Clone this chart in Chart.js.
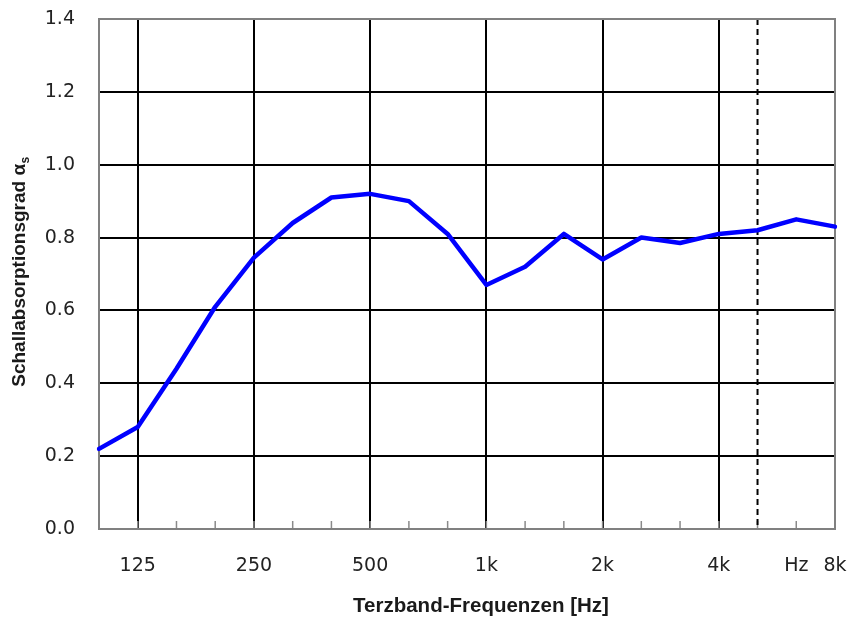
<!DOCTYPE html>
<html>
<head>
<meta charset="utf-8">
<script src="https://cdn.jsdelivr.net/npm/chart.js@4"></script>
<style>
  html, body { margin: 0; padding: 0; background: #fff; }
  #wrap { width: 853px; height: 617px; }
</style>
</head>
<body>
<div id="wrap"><canvas id="c" width="853" height="617"></canvas></div>
<script>
// Third-octave band centre frequencies (Hz)
const categories = ['100','125','160','200','250','315','400','500','630','800','1000','1250','1600','2000','2500','3150','4000','5000','6300','8000'];
// Sound absorption coefficient alpha_s
const absorption = [0.22,0.28,0.44,0.61,0.745,0.84,0.91,0.92,0.90,0.81,0.67,0.72,0.81,0.74,0.80,0.785,0.81,0.82,0.85,0.83];
// Shown x tick labels
const xTickLabels = ['','125','','','250','','','500','','','1k','','','2k','','','4k','','Hz','8k'];
// Categories with solid vertical grid lines, and the one with a dashed line
const majorGridCats = ['125','250','500','1000','2000','4000'];
const dashedCat = '5000';
// Y axis range
const yMin = 0, yMax = 1.4, yStep = 0.2;

const xTitle = 'Terzband-Frequenzen [Hz]';
const yTitleMain = 'Schallabsorptionsgrad α';
const yTitleSub = 's';

const decorPlugin = {
  id: 'decor',
  beforeDatasetsDraw(chart) {
    const {ctx, chartArea: a, scales: {x}} = chart;
    ctx.save();
    // minor ticks at every band (inside, upward)
    ctx.strokeStyle = '#8a8a8a';
    ctx.lineWidth = 1.5;
    categories.forEach((c, i) => {
      const px = x.getPixelForValue(i);
      ctx.beginPath();
      ctx.moveTo(px, a.bottom);
      ctx.lineTo(px, a.bottom - 8);
      ctx.stroke();
    });
    // dashed vertical line
    const dIdx = categories.indexOf(dashedCat);
    const dx = x.getPixelForValue(dIdx);
    ctx.strokeStyle = '#000';
    ctx.lineWidth = 2;
    ctx.setLineDash([6, 4]);
    ctx.beginPath();
    ctx.moveTo(dx, a.top);
    ctx.lineTo(dx, a.bottom);
    ctx.stroke();
    ctx.setLineDash([]);
    // frame
    ctx.strokeStyle = '#808080';
    ctx.lineWidth = 2;
    ctx.strokeRect(a.left, a.top, a.right - a.left, a.bottom - a.top);
    ctx.restore();
  },
  afterDraw(chart) {
    const {ctx, chartArea: a} = chart;
    ctx.save();
    ctx.fillStyle = '#1a1a1a';
    // x-axis title
    ctx.font = "bold 20.5px 'Liberation Sans', Arial, sans-serif";
    ctx.textAlign = 'center';
    ctx.textBaseline = 'middle';
    ctx.fillText(xTitle, (a.left + a.right) / 2 + 14, 606);
    // y-axis title with subscript
    const cy = (a.top + a.bottom) / 2 - 2;
    ctx.translate(20, cy);
    ctx.rotate(-Math.PI / 2);
    ctx.textBaseline = 'middle';
    ctx.textAlign = 'left';
    const f1 = "bold 19px 'Liberation Sans', Arial, sans-serif";
    const f2 = "bold 12px 'Liberation Sans', Arial, sans-serif";
    ctx.font = f1;
    const w1 = ctx.measureText(yTitleMain).width;
    ctx.font = f2;
    const w2 = ctx.measureText(yTitleSub).width;
    const sx = -(w1 + w2) / 2;
    ctx.font = f1;
    ctx.fillText(yTitleMain, sx, 0);
    ctx.font = f2;
    ctx.fillText(yTitleSub, sx + w1 + 0.5, 6);
    ctx.restore();
  }
};

new Chart(document.getElementById('c'), {
  type: 'line',
  data: {
    labels: categories,
    datasets: [{
      data: absorption,
      borderColor: '#0000ff',
      borderWidth: 4.5,
      pointRadius: 0,
      pointHoverRadius: 0,
      fill: false,
      tension: 0,
      borderJoinStyle: 'round',
      borderCapStyle: 'round'
    }]
  },
  options: {
    responsive: false,
    animation: false,
    events: [],
    layout: { padding: { top: 19, right: 18, bottom: 0, left: 0 } },
    plugins: { legend: { display: false }, tooltip: { enabled: false } },
    scales: {
      x: {
        type: 'category',
        offset: false,
        border: { display: false },
        grid: {
          drawTicks: false,
          lineWidth: 2,
          color: (ctx) => {
            const i = ctx.index;
            return (ctx.tick && majorGridCats.includes(categories[i])) ? '#000' : 'rgba(0,0,0,0)';
          }
        },
        ticks: {
          autoSkip: false,
          maxRotation: 0,
          minRotation: 0,
          padding: 26,
          color: '#222',
          font: { family: "'DejaVu Sans', sans-serif", size: 19 },
          callback: (v, i) => xTickLabels[i]
        },
        title: { display: false },
        afterFit: (s) => { s.height = 88; s.paddingLeft = 0; s.paddingRight = 0; }
      },
      y: {
        min: yMin,
        max: yMax,
        border: { display: false },
        grid: { drawTicks: false, lineWidth: 2, color: '#000' },
        ticks: {
          stepSize: yStep,
          padding: 24,
          color: '#222',
          font: { family: "'DejaVu Sans', sans-serif", size: 19 },
          callback: (v) => Number(v).toFixed(1)
        },
        afterFit: (s) => { s.width = 99; s.paddingTop = 0; s.paddingBottom = 0; }
      }
    }
  },
  plugins: [decorPlugin]
});
</script>
</body>
</html>
